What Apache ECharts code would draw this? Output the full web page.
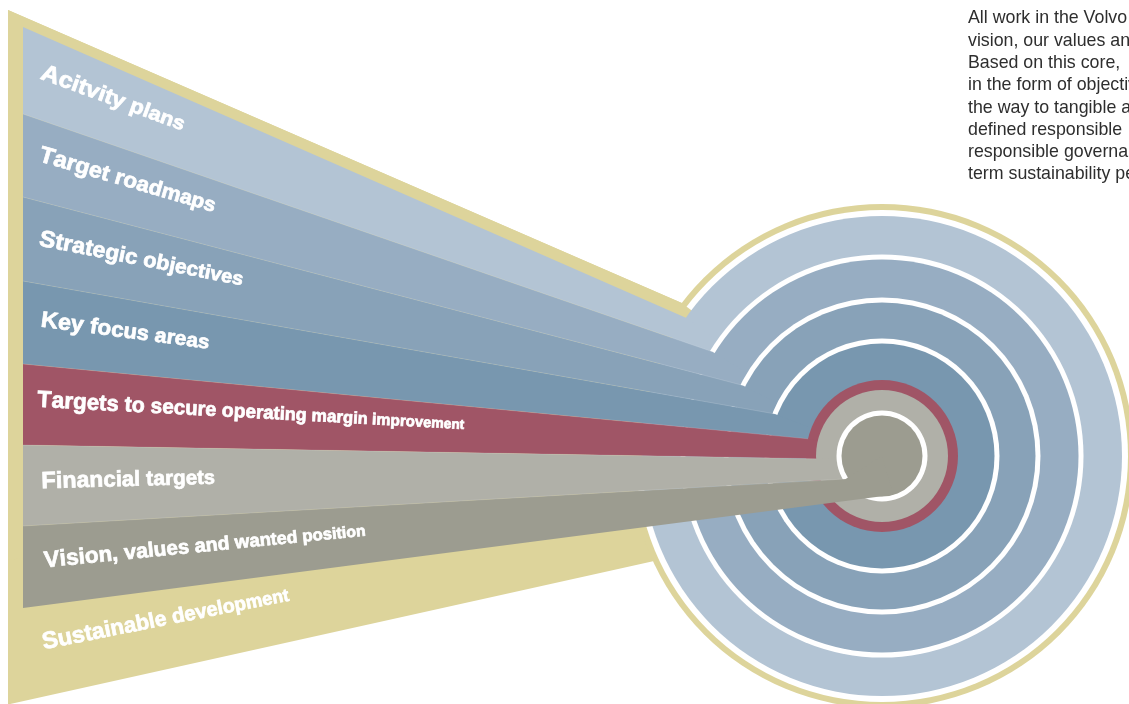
<!DOCTYPE html>
<html><head><meta charset="utf-8">
<script src="https://cdn.jsdelivr.net/npm/echarts@6/dist/echarts.min.js"></script>
<style>html,body{margin:0;padding:0;background:#fff;overflow:hidden}#c{width:1129px;height:704px}</style>
</head><body><div id="c"></div>
<script>
// ---- content ----
const levels = ['Sustainable development','Acitvity plans','Target roadmaps','Strategic objectives','Key focus areas','Targets to secure operating margin improvement','Financial targets','Vision, values and wanted position'];
const levelColors = ['#ddd49b','#b3c4d4','#97adc2','#88a2b8','#7897af','#a05566','#b0b0a8','#9c9c90'];
const paragraphLines = ['All work in the Volvo','vision, our values and','Based on this core,','in the form of objectives','the way to tangible and','defined responsible','responsible governance','term sustainability performance'];

// ---- layout (geometry, not data) ----
const C = [882, 456];
const LAY = {
  goldR: 252, gapR: 246,
  goldTop: [[8, 10], [682, 303]],
  goldBottom: [[8, 704.5], [600, 573]],
  goldRedrawTo: [8, 560],
  bandLeft: 23,
  ringR: [null, 240, 199, 156, 115, 76, 66, 43],
  whiteSep: [false, false, true, true, true, false, false, true],
  sepW: 5,
  bounds: [[27,280],[114,313],[197,348],[281,383],[364,419],[445,455],[526,493],[608,533]],
  labels: [
    {from:[44,651], to:[290,601.7], s0:24, s1:17.7},
    {from:[39,80], to:[181.7,131.7], s0:23.5, s1:19},
    {from:[37.5,162.5], to:[213.3,213.3], s0:23.2, s1:19.8},
    {from:[38,247], to:[241.7,286.7], s0:23.5, s1:18.8},
    {from:[40,328], to:[208.3,350], s0:22.8, s1:19.5},
    {from:[37,408.5], to:[464,430], s0:23.5, s1:13.5},
    {from:[41.5,490], to:[215,485], s0:23.7, s1:19.5},
    {from:[45,569], to:[366,536.7], s0:23.1, s1:15.2}
  ]
};
const LABEL_FONT = '"Liberation Sans", Arial, sans-serif';

function hit(p, q, R, far) {
  const dx = q[0]-p[0], dy = q[1]-p[1];
  const fx = p[0]-C[0], fy = p[1]-C[1];
  const a = dx*dx+dy*dy, b = 2*(fx*dx+fy*dy), c = fx*fx+fy*fy-R*R;
  const disc = Math.sqrt(Math.max(0, b*b-4*a*c));
  const t = far ? (-b+disc)/(2*a) : (-b-disc)/(2*a);
  return [p[0]+t*dx, p[1]+t*dy];
}
function boundLine(k) { const b = LAY.bounds[k]; return [[LAY.bandLeft, b[0]], [600, b[1]]]; }

const mctx = document.createElement('canvas').getContext('2d');
function measure(ch, size) { mctx.font = 'bold ' + size + 'px ' + LABEL_FONT; return mctx.measureText(ch).width; }

function labelElements(text, cfg) {
  const chars = Array.from(text);
  const w0 = chars.map(ch => measure(ch, cfg.s0));
  const W0 = w0.reduce((a, b) => a + b, 0);
  let acc = 0;
  const sizes = chars.map((ch, i) => { const f = (acc + w0[i]/2) / W0; acc += w0[i]; return cfg.s0 + (cfg.s1 - cfg.s0) * f; });
  const w = chars.map((ch, i) => measure(ch, sizes[i]));
  const W = w.reduce((a, b) => a + b, 0);
  const dx = cfg.to[0]-cfg.from[0], dy = cfg.to[1]-cfg.from[1];
  const Ltot = Math.sqrt(dx*dx+dy*dy);
  const th = Math.atan2(dy, dx);
  const sx = Ltot / W;
  const ux = Math.cos(th), uy = Math.sin(th);
  const out = [];
  let d = 0;
  chars.forEach((ch, i) => {
    if (ch !== ' ') {
      out.push({
        type: 'text', x: cfg.from[0] + ux*d, y: cfg.from[1] + uy*d,
        rotation: -th, scaleX: sx, scaleY: 1, z2: 500, silent: true,
        style: { text: ch, x: 0, y: -0.3465*sizes[i], fill: '#ffffff', stroke: '#ffffff', lineWidth: 0.7, fontSize: sizes[i], fontWeight: 'bold', fontFamily: LABEL_FONT, align: 'left', verticalAlign: 'middle' }
      });
    }
    d += w[i] * sx;
  });
  return out;
}

function renderItem(params, api) {
  const i = params.dataIndex;
  const col = levelColors[i];
  const children = [];
  if (i === 0) {
    const up = hit(LAY.goldTop[0], LAY.goldTop[1], LAY.goldR);
    const dn = hit(LAY.goldBottom[0], LAY.goldBottom[1], LAY.goldR);
    children.push({ type:'polygon', z2:0, shape:{ points:[LAY.goldTop[0], up, C, dn, LAY.goldBottom[0]] }, style:{ fill: col } });
    children.push({ type:'circle', z2:1, shape:{ cx:C[0], cy:C[1], r:LAY.goldR }, style:{ fill: col } });
    children.push({ type:'circle', z2:2, shape:{ cx:C[0], cy:C[1], r:LAY.gapR }, style:{ fill: '#ffffff' } });
    children.push({ type:'polygon', z2:3, shape:{ points:[LAY.goldTop[0], up, C, LAY.goldRedrawTo] }, style:{ fill: col } });
  } else {
    const R = LAY.ringR[i];
    const base = i * 10;
    const sep = LAY.whiteSep[i];
    if (sep) children.push({ type:'circle', z2:base, shape:{ cx:C[0], cy:C[1], r:R + LAY.sepW/2 }, style:{ fill:'#ffffff' } });
    children.push({ type:'circle', z2:base+1, shape:{ cx:C[0], cy:C[1], r: sep ? R - LAY.sepW/2 : R }, style:{ fill: col } });
    const top = boundLine(i-1), bot = boundLine(i);
    const topEnd = hit(top[0], top[1], R);
    const last = i === levels.length - 1;
    const botEnd = last ? hit(bot[0], bot[1], R - LAY.sepW/2, true) : hit(bot[0], bot[1], LAY.ringR[i+1]);
    children.push({ type:'polygon', z2:base+2, shape:{ points:[top[0], topEnd, C, botEnd, bot[0]] }, style:{ fill: col } });
    if (i > 1) {
      // faint seam where this band meets the previous one
      children.push({ type:'line', z2:base+3, shape:{ x1: top[0][0], y1: top[0][1], x2: topEnd[0], y2: topEnd[1] }, style:{ stroke:'rgba(255,255,255,0.2)', lineWidth:0.7 } });
    }
  }
  labelElements(levels[i], LAY.labels[i]).forEach(e => children.push(e));
  return { type:'group', children };
}

const chart = echarts.init(document.getElementById('c'), null, { renderer: 'canvas' });
chart.setOption({
  animation: false,
  backgroundColor: '#ffffff',
  graphic: [{
    type: 'text', x: 968, y: 7.3, z: 10,
    style: { text: paragraphLines.join('\n'), fontSize: 17.8, lineHeight: 22.3, fontFamily: '"Liberation Sans", Arial, sans-serif', fill: '#2e2e2e', verticalAlign: 'top', align: 'left' }
  }],
  series: [{
    type: 'custom', coordinateSystem: 'none', silent: true,
    data: levels.map((n, i) => ({ name: n, value: i })),
    renderItem
  }]
});
</script>
</body></html>
